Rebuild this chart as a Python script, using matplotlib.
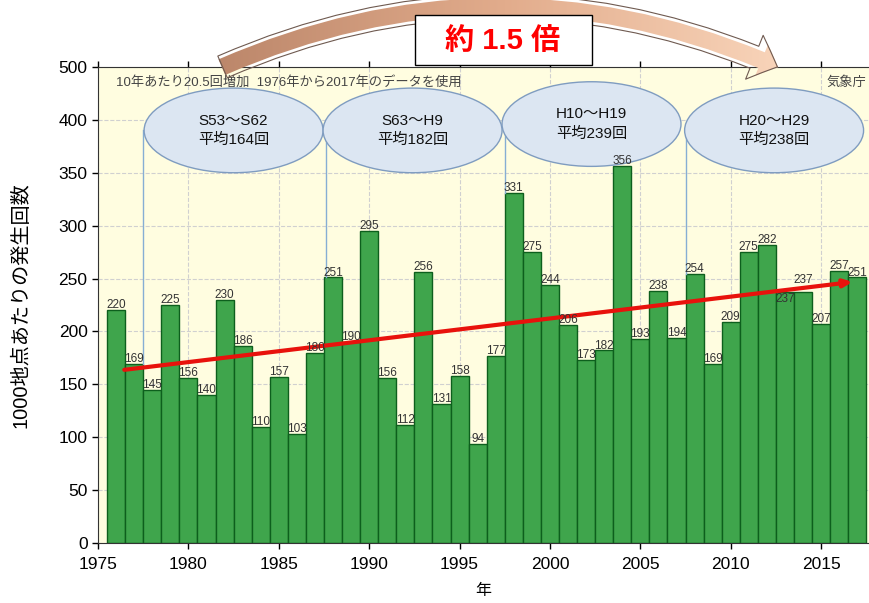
import numpy as np
import matplotlib
matplotlib.use("Agg")
from matplotlib import pyplot as plt
from matplotlib.patches import Ellipse, FancyArrowPatch, Rectangle
from matplotlib.colors import LinearSegmentedColormap

plt.rcParams['font.family'] = ['Liberation Sans', 'Noto Sans CJK JP', 'DejaVu Sans']

years = np.arange(1976, 2018)
counts = [220, 169, 145, 225, 156, 140, 230, 186, 110, 157, 103, 180,
          251, 190, 295, 156, 112, 256, 131, 158, 94, 177,
          331, 275, 244, 206, 173, 182, 356, 193, 238, 194,
          254, 169, 209, 275, 282, 237, 237, 207, 257, 251]

periods = ["S53～S62\n平均164回", "S63～H9\n平均182回",
           "H10～H19\n平均239回", "H20～H29\n平均238回"]
period_centers = [1982.5, 1992.4, 2002.3, 2012.4]
period_levels = [390, 390, 396, 390]
period_bounds = [1977.5, 1987.6, 1997.5, 2007.5]
period_bar_tops = [169, 251, 331, 254]

yticks = [0, 50, 100, 150, 200, 250, 300, 350, 400, 450]
ytick_labels = ["0", "50", "100", "150", "200", "250", "300", "350", "400", "500"]

fig = plt.figure(figsize=(8.69, 6.03), dpi=100)
ax = fig.add_axes([0.1128, 0.0995, 0.8872, 0.7895])
ax.set_facecolor("#fffde0")

ax.bar(years, counts, width=1.0, color="#3fa54c", edgecolor="#0d5f1d",
       linewidth=1, zorder=2)
for x, v in zip(years, counts):
    dy = -1
    if x == 2013:
        dy = -12   # staggered like the original, so equal neighbours don't collide
    elif x == 2014:
        dy = 6
    ax.text(x, v + dy, str(v), ha="center", va="bottom", fontsize=8.5,
            color="#333333", zorder=8)

# trend arrow
coef = np.polyfit(years, counts, 1)
x0, x1 = 1976.3, 2016.9
ax.annotate("", xy=(x1, np.polyval(coef, x1)), xytext=(x0, np.polyval(coef, x0)),
            arrowprops=dict(arrowstyle="-|>,head_length=0.5,head_width=0.22",
                            color="#e8120c", lw=3), zorder=5)

# period ellipses
for c, lev, b, top, label in zip(period_centers, period_levels, period_bounds,
                                 period_bar_tops, periods):
    ax.plot([b, b], [top, lev], color="#86aed4", lw=1, zorder=3)
    e = Ellipse((c, lev), width=9.9, height=80, facecolor="#dce6f2",
                edgecolor="#7f9cc0", lw=1, zorder=6)
    ax.add_patch(e)
    ax.text(c, lev, label, ha="center", va="center", fontsize=11,
            linespacing=1.5, color="#111111", zorder=7)

ax.text(1976.0, 435, "10年あたり20.5回増加  1976年から2017年のデータを使用",
        fontsize=9.5, color="#444444", va="center", ha="left")
ax.text(2017.5, 435, "気象庁", fontsize=9.5, color="#444444", va="center", ha="right")

ax.set_xlim(1975, 2017.65)
ax.set_ylim(0, 450)
ax.set_xticks(range(1975, 2016, 5))
ax.set_yticks(yticks)
ax.set_yticklabels(ytick_labels)
ax.tick_params(labelsize=12.5, direction="out", length=4, top=True, width=1)
ax.tick_params(axis="x", pad=6)
ax.grid(True, color="#d0d0d0", linestyle="--", linewidth=0.8, zorder=0)
ax.set_axisbelow(True)
ax.spines["right"].set_visible(False)
for s in ["left", "bottom", "top"]:
    ax.spines[s].set_color("#333333")
ax.set_xlabel("年", fontsize=11.5, labelpad=8)
ax.set_ylabel("1000地点あたりの発生回数", fontsize=14.5, labelpad=20)

# overlay in pixel coordinates for the curved arrow and the box
ov = fig.add_axes([0, 0, 1, 1], zorder=10)
ov.set_xlim(0, 869)
ov.set_ylim(603, 0)
ov.axis("off")

arc = FancyArrowPatch((220, 68), (780, 68),
                      connectionstyle="arc3,rad=-0.22",
                      arrowstyle="simple,head_length=18,head_width=34,tail_width=17",
                      mutation_scale=1, facecolor="none", edgecolor="#6f5a50", lw=0.8)
ov.add_patch(arc)
grad = np.linspace(0, 1, 256).reshape(1, -1)
cmap = LinearSegmentedColormap.from_list("brn", ["#b98468", "#e2ac8c", "#fbd9bf"])
im = ov.imshow(grad, extent=[195, 815, 80, 0], cmap=cmap, aspect="auto", zorder=1)
im.set_clip_path(arc)
arc.set_zorder(2)

ov.add_patch(Rectangle((415, 15), 177, 50, facecolor="white", edgecolor="black",
                       lw=1, zorder=3))
ov.text(503, 41, "約 1.5 倍", color="#ff0000", fontsize=21, fontweight="bold",
        ha="center", va="center", zorder=4)

fig.savefig("out.png", dpi=100)
